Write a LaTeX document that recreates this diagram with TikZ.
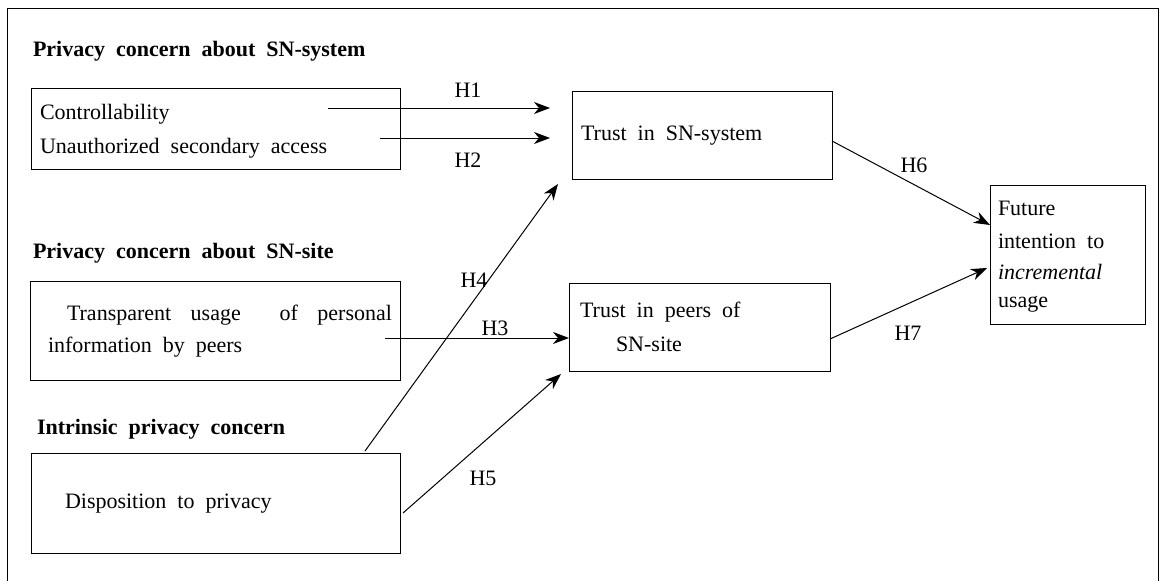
\documentclass[tikz,border=0pt]{standalone}
\usepackage{fontspec}
\setmainfont{Liberation Serif}[WordSpace=2]
\usetikzlibrary{arrows.meta}
\begin{document}
\begin{tikzpicture}[x=1pt,y=-1pt,
  every node/.style={inner sep=0pt,outer sep=0pt,font=\fontsize{22}{26}\selectfont},
  boxed/.style={draw,line width=1pt,inner sep=0pt},
  txt/.style={anchor=west},
  hdr/.style={anchor=west,font=\fontsize{22}{26}\selectfont\bfseries},
  lbl/.style={anchor=center},
  arr/.style={line width=1pt,-{Stealth[length=16pt,width=12pt,inset=5pt]}}]
\useasboundingbox (0,0) rectangle (1163,581);
% outer frame (no bottom line)
\coordinate (fbl) at (7,581);
\coordinate (ftl) at (7,8);
\coordinate (ftr) at (1158,8);
\coordinate (fbr) at (1158,581);
\draw[line width=1pt] (fbl) -- (ftl) -- (ftr) -- (fbr);
% headers
\node[hdr] (h1) at (33,51) {Privacy concern about SN-system};
\node[hdr] (h2) at (33,253) {Privacy concern about SN-site};
\node[hdr] (h3) at (37,429) {Intrinsic privacy concern};
% boxes
\node[boxed,minimum width=369pt,minimum height=81pt] (b1) at (215.5,128.5) {};
\node[boxed,minimum width=370pt,minimum height=99pt] (b2) at (215,330.5) {};
\node[boxed,minimum width=369pt,minimum height=100pt] (b3) at (215.5,503) {};
\node[boxed,minimum width=260pt,minimum height=88pt] (t1) at (702,135) {};
\node[boxed,minimum width=261pt,minimum height=88pt] (t2) at (699.5,327) {};
\node[boxed,minimum width=155pt,minimum height=139pt] (fu) at (1067.5,254.5) {};
% texts
\node[txt] (c1) at (40,114) {Controllability};
\node[txt] (c2) at (40,148) {Unauthorized secondary access};
\node[txt] (p1) at (67,315) {\makebox[325pt][s]{Transparent\hfill usage\hfill\hfill of\hfill personal}};
\node[txt] (p2) at (48,347) {information by peers};
\node[txt] (d1) at (65,504) {Disposition to privacy};
\node[txt] (s1) at (581,136) {Trust in SN-system};
\node[txt] (s2) at (580,312) {Trust in peers of};
\node[txt] (s3) at (616,344) {SN-site};
\node[txt] (u1) at (998,208) {Future};
\node[txt] (u2) at (998,241) {intention to};
\node[txt] (u3) at (998,272) {\textit{incremental}};
\node[txt] (u4) at (998,304) {usage};
% connector ends
\coordinate (a1s) at (328,108);
\coordinate (a1e) at (550,108);
\coordinate (a2s) at (380,138);
\coordinate (a2e) at (550,138);
\coordinate (a3s) at (385,338);
\coordinate (a4s) at (365,451);
\coordinate (a4e) at (558,184);
\coordinate (a5s) at (403,513);
\coordinate (a5e) at (561,374);
\coordinate (a6s) at (832,141);
\coordinate (a6e) at (990,225);
\coordinate (a7s) at (830,339);
\coordinate (a7e) at (987,268);
\draw[arr] (a1s) -- (a1e);
\draw[arr] (a2s) -- (a2e);
\draw[arr] (a3s) -- (t2.west |- a3s);
\draw[arr] (a4s) -- (a4e);
\draw[arr] (a5s) -- (a5e);
\draw[arr] (a6s) -- (a6e);
\draw[arr] (a7s) -- (a7e);
% labels
\node[lbl] (H1) at (468,90) {H1};
\node[lbl] (H2) at (468,160) {H2};
\node[lbl] (H3) at (495,328) {H3};
\node[lbl] (H4) at (474,280) {H4};
\node[lbl] (H5) at (483,478) {H5};
\node[lbl] (H6) at (914,165) {H6};
\node[lbl] (H7) at (908,333) {H7};
\end{tikzpicture}
\end{document}
